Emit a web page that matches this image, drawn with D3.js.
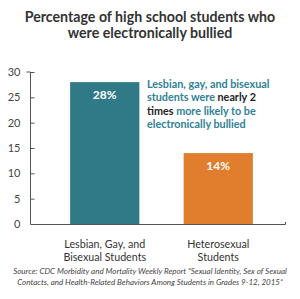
<!DOCTYPE html>
<html>
<head>
<meta charset="utf-8" />
<script src="https://d3js.org/d3.v7.min.js"></script>
<style>
  body { margin: 0; background: #fff; }
  text { font-family: Lato, "Open Sans", sans-serif; }
</style>
</head>
<body>
<svg width="300" height="299"></svg>
<script>
// chart data
const categories = ["Lesbian, Gay, and|Bisexual Students", "Heterosexual|Students"];
const values = [28, 14];
const valueLabels = ["28%", "14%"];
const barColors = ["#307987", "#e07e2d"];
const yTicks = [0, 5, 10, 15, 20, 25, 30];

const svg = d3.select("svg");

// title
svg.append("text")
    .attr("x", 150).attr("y", 22)
    .attr("text-anchor", "middle")
    .attr("font-size", 14.2).attr("font-weight", "bold")
    .attr("fill", "#333")
    .text("Percentage of high school students who");
svg.append("text")
    .attr("x", 150).attr("y", 38)
    .attr("text-anchor", "middle")
    .attr("font-size", 14.2).attr("font-weight", "bold")
    .attr("fill", "#333")
    .text("were electronically bullied");

const yscale = d3.scaleLinear().domain([0, 30]).range([224, 72]);
const xscale = d3.scaleBand()
    .domain(categories)
    .range([48, 275])
    .paddingInner(0.39)
    .paddingOuter(0.195);

// y axis
const yaxisG = svg.append("g")
    .attr("transform", "translate(30.5,0)")
    .call(d3.axisLeft(yscale).tickValues(yTicks).tickSize(-4).tickPadding(10));
yaxisG.selectAll("text").attr("font-size", 11).attr("fill", "#444")
    .style("font-family", "Lato, sans-serif");
yaxisG.selectAll("line, .domain").attr("stroke", "#555");
yaxisG.select(".domain").attr("d", "M-4," + yscale(30) + "H0V" + yscale(0));

// x axis baseline
svg.append("path")
    .attr("d", "M30.5," + (yscale(0) + 0.5) + "H285.5V" + (yscale(0) - 2))
    .attr("fill", "none").attr("stroke", "#555");

// bars
svg.selectAll("rect.bar")
    .data(categories)
    .enter().append("rect")
    .attr("class", "bar")
    .attr("x", d => xscale(d))
    .attr("y", (d, i) => yscale(values[i]))
    .attr("width", xscale.bandwidth())
    .attr("height", (d, i) => yscale(0) - yscale(values[i]))
    .attr("fill", (d, i) => barColors[i]);

svg.selectAll("text.val")
    .data(categories)
    .enter().append("text")
    .attr("class", "val")
    .attr("x", d => xscale(d) + xscale.bandwidth() / 2)
    .attr("y", (d, i) => yscale(values[i]) + 17)
    .attr("text-anchor", "middle")
    .attr("font-size", 12).attr("font-weight", "bold")
    .attr("fill", "#fff")
    .text((d, i) => valueLabels[i]);

// category labels
categories.forEach(c => {
    c.split("|").forEach((line, j) => {
        svg.append("text")
            .attr("x", xscale(c) + xscale.bandwidth() / 2)
            .attr("y", 248 + j * 13)
            .attr("text-anchor", "middle")
            .attr("font-size", 10.7)
            .attr("fill", "#333")
            .text(line);
    });
});

// annotation
const teal = "#2f8196", dark = "#222";
const note = [
    [["Lesbian, gay, and bisexual", teal]],
    [["students were ", teal], ["nearly 2", dark]],
    [["times ", dark], ["more likely to be", teal]],
    [["electronically bullied", teal]]
];
note.forEach((parts, i) => {
    const t = svg.append("text")
        .attr("x", 147).attr("y", 88 + i * 13.3)
        .attr("font-size", 10.8).attr("font-weight", "bold");
    parts.forEach(p => t.append("tspan").attr("fill", p[1]).text(p[0]));
});

// source
const src = [
    "Source: CDC Morbidity and Mortality Weekly Report \u201cSexual Identity, Sex of Sexual",
    "Contacts, and Health-Related Behaviors Among Students in Grades 9-12, 2015\u201d"
];
src.forEach((s, i) => {
    svg.append("text")
        .attr("x", 150).attr("y", 274 + i * 10.5)
        .attr("text-anchor", "middle")
        .attr("font-size", 8).attr("font-style", "italic")
        .attr("fill", "#444")
        .text(s);
});
</script>
</body>
</html>
